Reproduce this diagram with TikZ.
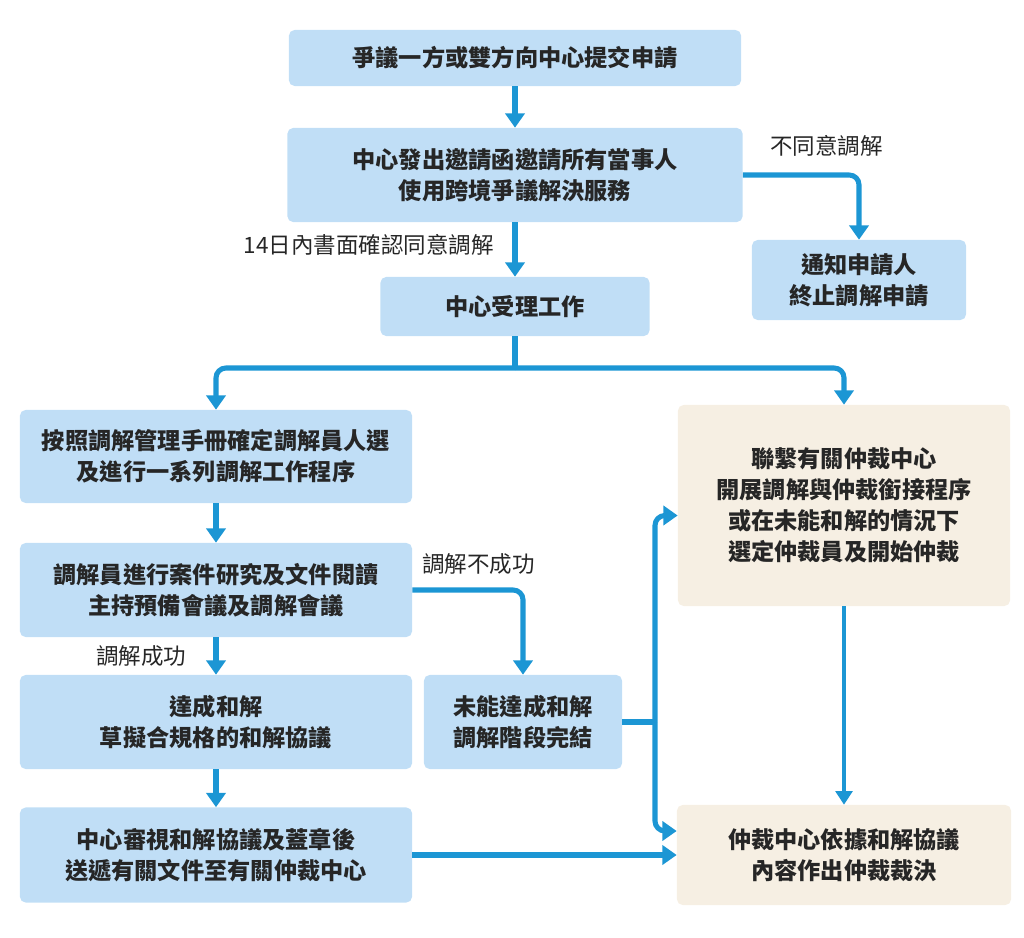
\documentclass[tikz,border=0pt]{standalone}
\usepackage{fontspec}
\setmainfont{Noto Sans CJK TC}
\usepackage{xcolor}
\usetikzlibrary{arrows.meta}
\definecolor{flowblue}{RGB}{28,150,212}
\definecolor{boxblue}{RGB}{192,222,246}
\definecolor{boxsand}{RGB}{246,239,227}
\definecolor{inkgray}{RGB}{38,38,38}
\tikzset{
  stepbox/.style={fill=boxblue, rounded corners=4pt, align=center, text=inkgray,
    inner sep=0pt, font=\fontsize{16.5}{22}\selectfont\bfseries},
  sandbox/.style={stepbox, fill=boxsand},
  flowline/.style={flowblue, line width=3.6pt, rounded corners=7pt},
  flow/.style={flowline, -{Triangle[width=0.48cm,length=0.36cm]}},
  flowthin/.style={flowblue, line width=2.2pt, -{Triangle[width=0.42cm,length=0.34cm]}},
  note/.style={text=inkgray, font=\fontsize{16}{20}\selectfont}
}

\begin{document}
\begin{tikzpicture}
    [line cap=butt,line join=round,x=0.025cm,y=-0.025cm]
\useasboundingbox (0,0) rectangle (1024,938);
%main column
\node[stepbox, minimum width=11.3cm, minimum height=1.4cm] (apply) at (515,58)
    {爭議一方或雙方向中心提交申請};
\node[stepbox, minimum width=11.375cm, minimum height=2.35cm] (invite) at (515,175)
    {中心發出邀請函邀請所有當事人\\使用跨境爭議解決服務};
\node[stepbox, minimum width=6.725cm, minimum height=1.475cm] (accept) at (515,306.5)
    {中心受理工作};
\node[stepbox, minimum width=5.35cm, minimum height=2cm] (notify) at (859,280)
    {通知申請人\\終止調解申請};
%left column
\node[stepbox, minimum width=9.8cm, minimum height=2.325cm] (prep) at (216,456.5)
    {按照調解管理手冊確定調解員人選\\及進行一系列調解工作程序};
\node[stepbox, minimum width=9.8cm, minimum height=2.35cm] (study) at (216,590)
    {調解員進行案件研究及文件閱讀\\主持預備會議及調解會議};
\node[stepbox, minimum width=9.8cm, minimum height=2.35cm] (settle) at (216,722)
    {達成和解\\草擬合規格的和解協議};
\node[stepbox, minimum width=4.95cm, minimum height=2.35cm] (fail) at (523,722)
    {未能達成和解\\調解階段完結};
\node[stepbox, minimum width=9.8cm, minimum height=2.375cm] (forward) at (216,855)
    {中心審視和解協議及蓋章後\\送遞有關文件至有關仲裁中心};
%arbitration side
\node[sandbox, minimum width=8.3cm, minimum height=5.025cm] (liaise) at (844,505.5)
    {聯繫有關仲裁中心\\開展調解與仲裁銜接程序\\或在未能和解的情況下\\選定仲裁員及開始仲裁};
\node[sandbox, minimum width=8.35cm, minimum height=2.5cm] (award) at (844,855)
    {仲裁中心依據和解協議\\內容作出仲裁裁決};

%connectors
\coordinate (split) at (515,368);
\coordinate (junc) at (655,722);
\draw[flow] (apply) -- (invite);
\draw[flow] (invite) -- node[note, left=10pt, pos=0.42] {14日內書面確認同意調解} (accept);
\draw[flow] (invite.east) -| node[note, above=8pt, pos=0.36] {不同意調解} (notify);
\draw[flowline] (accept) -- (split);
\draw[flow] (split) -| (prep);
\draw[flow] (split) -| (liaise);
\draw[flow] (prep) -- (study);
\draw[flow] (study) -- node[note, left=16pt, pos=0.5] {調解成功} (settle);
\draw[flow] (study.east) -| node[note, above=6pt, pos=0.3] {調解不成功} (fail);
\draw[flow] (settle) -- (forward);
\draw[flowline] (fail) -- (junc);
\draw[flow] (junc) |- ([yshift=-0.25cm]liaise.west);
\draw[flow] (junc) |- ([yshift=0.6cm]award.west);
\draw[flow] (forward) -- (award);
\draw[flowthin] (liaise) -- (award);
\end{tikzpicture}
\end{document}
